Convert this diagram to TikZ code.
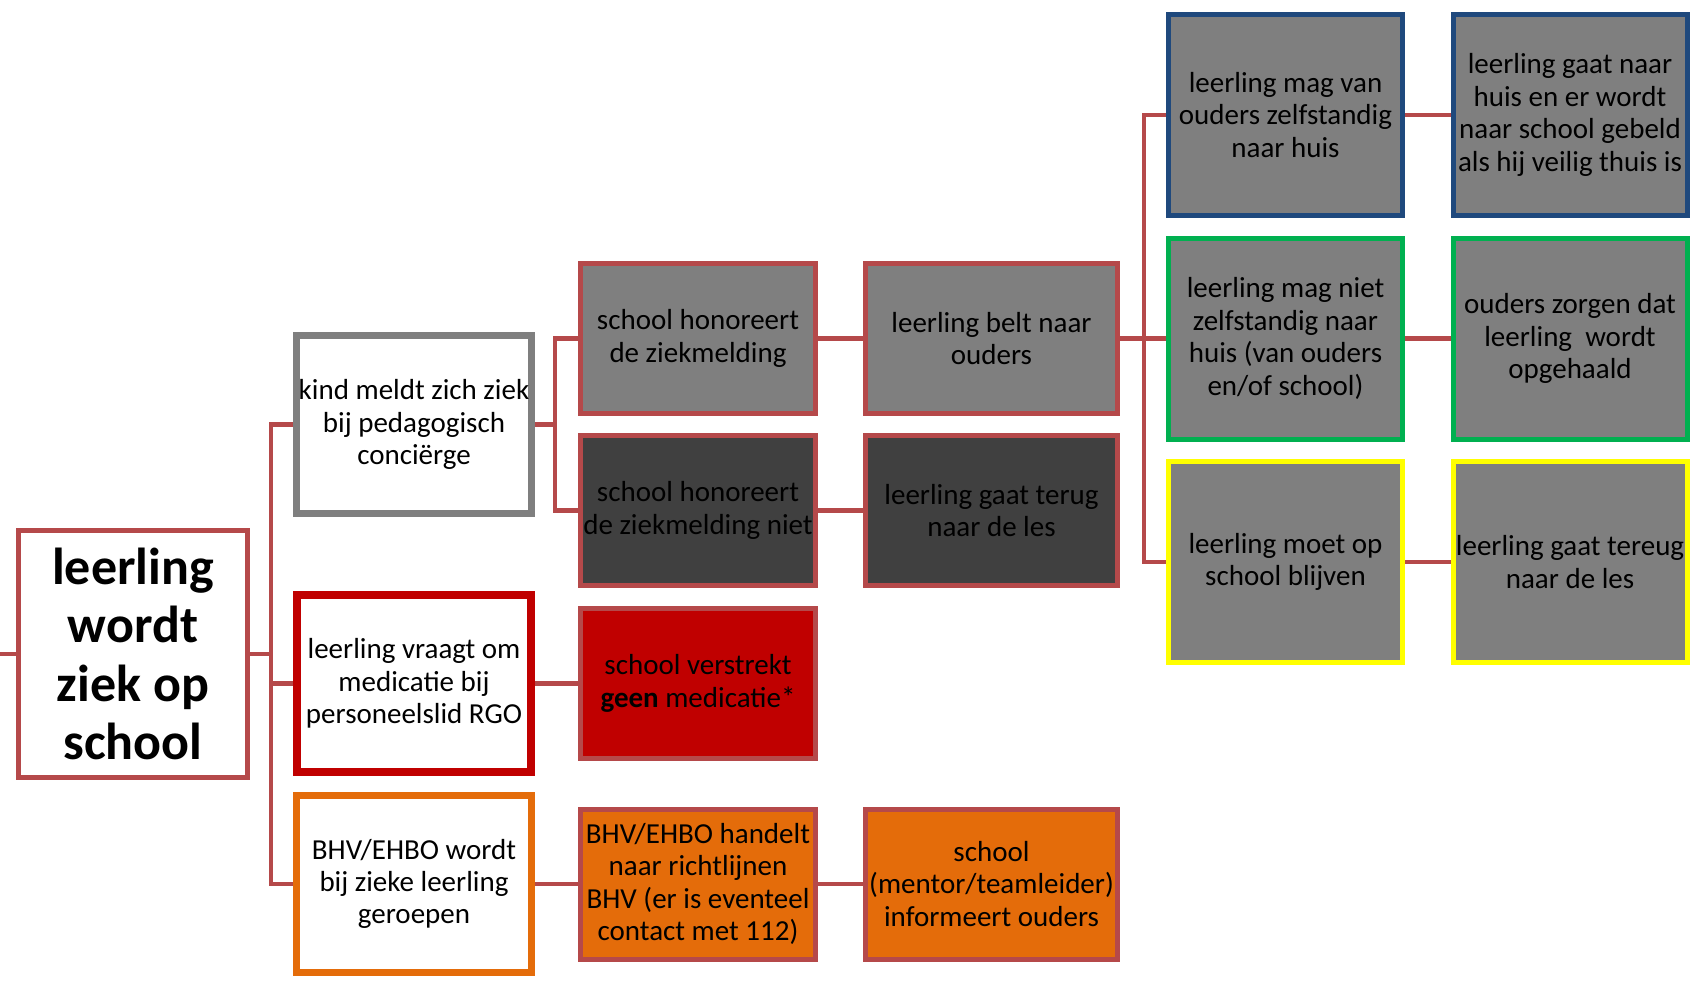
\documentclass[tikz,border=0pt]{standalone}
\usepackage{fontspec}
\setmainfont{Carlito}
\definecolor{conn}{HTML}{B5494A}
\definecolor{gfill}{HTML}{7F7F7F}
\definecolor{dfill}{HTML}{404040}
\definecolor{rfill}{HTML}{C00000}
\definecolor{ofill}{HTML}{E46C0A}
\definecolor{bborder}{HTML}{1F497D}
\definecolor{grborder}{HTML}{00B050}
\definecolor{yborder}{HTML}{FFFF00}
\tikzset{
  base/.style={draw, rectangle, inner sep=0pt, align=center, text=black,
    font=\fontsize{14.5}{16.2}\selectfont},
  lone/.style={base, minimum width=117.5pt, minimum height=89pt},
  ltwo/.style={base, draw=conn, line width=2.5pt, minimum width=117.5pt, minimum height=75pt},
  lthree/.style={base, draw=conn, line width=2.5pt, minimum width=126pt, minimum height=75pt},
  lfour/.style={base, fill=gfill, line width=2.5pt, minimum width=117pt, minimum height=100.5pt},
  cn/.style={draw=conn, line width=2.3pt}
}
\begin{document}
\begin{tikzpicture}[x=0.5pt,y=-0.5pt]
\useasboundingbox (0,0) rectangle (1697,986);
% root
\node[base, draw=conn, fill=white, line width=2.5pt, minimum width=114.5pt, minimum height=123.5pt,
  font=\fontsize{26}{29.3}\selectfont\bfseries] (root) at (133,654) {leerling\\wordt\\ziek op\\school};
% level 1
\node[lone, draw=gfill, fill=white, line width=3.5pt] (kind) at (414,424.5) {kind meldt zich ziek\\bij pedagogisch\\conciërge};
\node[lone, draw=rfill, fill=white, line width=4pt, minimum width=117pt, minimum height=88.5pt] (vraagt) at (414,683.5) {leerling vraagt om\\medicatie bij\\personeelslid RGO};
\node[lone, draw=ofill, fill=white, line width=3.5pt, minimum height=88.5pt] (bhv) at (414,884) {BHV/EHBO wordt\\bij zieke leerling\\geroepen};
% level 2
\node[ltwo, fill=gfill] (hon) at (698,338.5) {school honoreert\\de ziekmelding};
\node[ltwo, fill=dfill] (niet) at (698,510.5) {school honoreert\\de ziekmelding niet};
\node[ltwo, fill=rfill] (geen) at (698,683.5) {school verstrekt\\\textbf{geen} medicatie*};
\node[ltwo, fill=ofill] (handelt) at (698,884) {BHV/EHBO handelt\\naar richtlijnen\\BHV (er is eventeel\\contact met 112)};
% level 3
\node[lthree, fill=gfill] (belt) at (991.5,338.5) {leerling belt naar\\ouders};
\node[lthree, fill=dfill] (terug) at (991.5,510.5) {leerling gaat terug\\naar de les};
\node[lthree, fill=ofill] (informeert) at (991.5,884) {school\\(mentor/teamleider)\\informeert ouders};
% level 4
\node[lfour, draw=bborder] (mag) at (1285.5,115) {leerling mag van\\ouders zelfstandig\\naar huis};
\node[lfour, draw=grborder] (magniet) at (1285.5,338.5) {leerling mag niet\\zelfstandig naar\\huis (van ouders\\en/of school)};
\node[lfour, draw=yborder] (moet) at (1285.5,562) {leerling moet op\\school blijven};
% level 5
\node[lfour, draw=bborder] (gaatnaar) at (1570,115) {leerling gaat naar\\huis en er wordt\\naar school gebeld\\als hij veilig thuis is};
\node[lfour, draw=grborder] (zorgen) at (1570,338.5) {ouders zorgen dat\\leerling\ \ wordt\\opgehaald};
\node[lfour, draw=yborder] (tereug) at (1570,562) {leerling gaat tereug\\naar de les};
% connectors
\coordinate (s) at (0,654);
\coordinate (t1) at (271,654);
\coordinate (t2) at (555,424.5);
\coordinate (t3) at (1144,338.5);
\draw[cn] (s) -- (root.west);
\draw[cn] (root.east) -- (t1);
\draw[cn] (kind.west) -| (t1) |- (bhv.west);
\draw[cn] (t1 |- vraagt.west) -- (vraagt.west);
\draw[cn] (kind.east) -- (t2);
\draw[cn] (hon.west) -| (t2) |- (niet.west);
\draw[cn] (vraagt.east) -- (geen.west);
\draw[cn] (bhv.east) -- (handelt.west);
\draw[cn] (hon.east) -- (belt.west);
\draw[cn] (niet.east) -- (terug.west);
\draw[cn] (handelt.east) -- (informeert.west);
\draw[cn] (belt.east) -- (t3);
\draw[cn] (mag.west) -| (t3) |- (moet.west);
\draw[cn] (t3) -- (magniet.west);
\draw[cn] (mag.east) -- (gaatnaar.west);
\draw[cn] (magniet.east) -- (zorgen.west);
\draw[cn] (moet.east) -- (tereug.west);
\end{tikzpicture}
\end{document}
